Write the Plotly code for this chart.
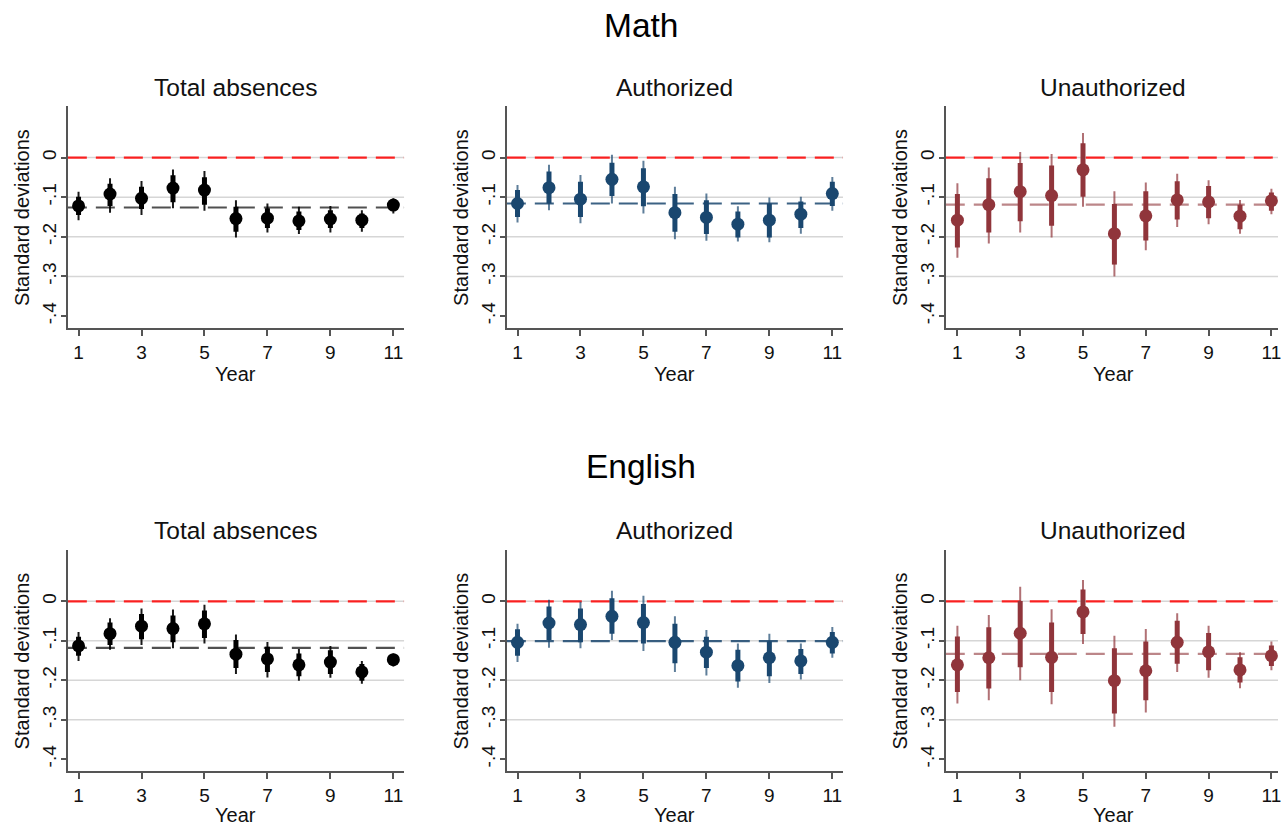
import plotly.graph_objects as go

# ---------------------------------------------------------------------------
# Event-study style estimates by school year (effect in standard deviations)
# Each panel: point estimate, inner (thick) interval, outer (thin) interval,
# and the pooled average drawn as a dashed reference line.
# ---------------------------------------------------------------------------
years = [1, 2, 3, 4, 5, 6, 7, 8, 9, 10, 11]
x_tick_vals = [1, 3, 5, 7, 9, 11]
y_tick_vals = [0, -0.1, -0.2, -0.3, -0.4]
y_tick_text = ["0", "-.1", "-.2", "-.3", "-.4"]
grid_levels = [0, -0.1, -0.2, -0.3]

# Math - total absences
math_total_est = [-0.122, -0.092, -0.103, -0.077, -0.082, -0.154, -0.153, -0.160, -0.155, -0.158, -0.120]
math_total_in_lo = [-0.145, -0.122, -0.130, -0.113, -0.119, -0.187, -0.178, -0.183, -0.178, -0.178, -0.134]
math_total_in_hi = [-0.099, -0.066, -0.074, -0.045, -0.050, -0.124, -0.128, -0.136, -0.133, -0.141, -0.109]
math_total_out_lo = [-0.158, -0.139, -0.145, -0.128, -0.134, -0.202, -0.189, -0.193, -0.189, -0.187, -0.141]
math_total_out_hi = [-0.086, -0.052, -0.059, -0.030, -0.034, -0.108, -0.116, -0.124, -0.122, -0.133, -0.103]
math_total_avg = -0.126

# Math - authorized absences
math_auth_est = [-0.116, -0.076, -0.105, -0.055, -0.074, -0.139, -0.151, -0.168, -0.158, -0.143, -0.091]
math_auth_in_lo = [-0.150, -0.116, -0.150, -0.097, -0.123, -0.187, -0.193, -0.202, -0.202, -0.178, -0.122]
math_auth_in_hi = [-0.082, -0.035, -0.061, -0.013, -0.027, -0.092, -0.108, -0.136, -0.116, -0.111, -0.061]
math_auth_out_lo = [-0.164, -0.133, -0.166, -0.116, -0.141, -0.206, -0.210, -0.212, -0.214, -0.192, -0.134]
math_auth_out_hi = [-0.069, -0.018, -0.044, 0.007, -0.008, -0.074, -0.091, -0.123, -0.101, -0.099, -0.049]
math_auth_avg = -0.116

# Math - unauthorized absences
math_unauth_est = [-0.158, -0.119, -0.086, -0.096, -0.031, -0.192, -0.147, -0.107, -0.112, -0.148, -0.109]
math_unauth_in_lo = [-0.227, -0.189, -0.161, -0.172, -0.099, -0.270, -0.209, -0.156, -0.153, -0.181, -0.134]
math_unauth_in_hi = [-0.092, -0.052, -0.014, -0.020, 0.036, -0.117, -0.085, -0.060, -0.072, -0.119, -0.088]
math_unauth_out_lo = [-0.253, -0.217, -0.189, -0.202, -0.124, -0.300, -0.234, -0.175, -0.168, -0.192, -0.143]
math_unauth_out_hi = [-0.065, -0.025, 0.014, 0.009, 0.062, -0.085, -0.063, -0.041, -0.057, -0.107, -0.079]
math_unauth_avg = -0.119

# English - total absences
eng_total_est = [-0.113, -0.082, -0.063, -0.069, -0.057, -0.134, -0.146, -0.161, -0.154, -0.179, -0.148]
eng_total_in_lo = [-0.138, -0.111, -0.096, -0.104, -0.093, -0.169, -0.179, -0.190, -0.184, -0.201, -0.161]
eng_total_in_hi = [-0.090, -0.054, -0.032, -0.036, -0.023, -0.098, -0.115, -0.132, -0.124, -0.159, -0.138]
eng_total_out_lo = [-0.151, -0.123, -0.111, -0.119, -0.107, -0.184, -0.193, -0.201, -0.194, -0.209, -0.165]
eng_total_out_hi = [-0.078, -0.043, -0.018, -0.021, -0.009, -0.084, -0.103, -0.121, -0.113, -0.151, -0.132]
eng_total_avg = -0.118

# English - authorized absences
eng_auth_est = [-0.104, -0.055, -0.059, -0.038, -0.054, -0.104, -0.129, -0.163, -0.143, -0.151, -0.104]
eng_auth_in_lo = [-0.138, -0.098, -0.104, -0.082, -0.107, -0.157, -0.169, -0.203, -0.190, -0.184, -0.132]
eng_auth_in_hi = [-0.071, -0.013, -0.018, 0.008, -0.007, -0.057, -0.090, -0.123, -0.101, -0.121, -0.078]
eng_auth_out_lo = [-0.154, -0.118, -0.119, -0.098, -0.126, -0.179, -0.188, -0.219, -0.207, -0.198, -0.143]
eng_auth_out_hi = [-0.057, 0.004, -0.001, 0.027, 0.014, -0.038, -0.073, -0.107, -0.082, -0.107, -0.065]
eng_auth_avg = -0.101

# English - unauthorized absences
eng_unauth_est = [-0.161, -0.143, -0.081, -0.142, -0.027, -0.201, -0.176, -0.104, -0.128, -0.174, -0.138]
eng_unauth_in_lo = [-0.230, -0.221, -0.167, -0.230, -0.083, -0.284, -0.251, -0.158, -0.175, -0.206, -0.164]
eng_unauth_in_hi = [-0.089, -0.066, 0.001, -0.054, 0.030, -0.119, -0.102, -0.049, -0.080, -0.142, -0.112]
eng_unauth_out_lo = [-0.259, -0.251, -0.200, -0.261, -0.108, -0.318, -0.282, -0.179, -0.194, -0.220, -0.175]
eng_unauth_out_hi = [-0.062, -0.035, 0.037, -0.020, 0.054, -0.087, -0.070, -0.030, -0.062, -0.129, -0.102]
eng_unauth_avg = -0.133

panel_titles = ["Total absences", "Authorized", "Unauthorized"]
section_titles = ["Math", "English"]

# Stata s2color-like palette: black, navy, maroon
BLACK = (0, 0, 0)
NAVY = (26, 71, 111)
MAROON = (144, 53, 59)

panels = [
    (math_total_est, math_total_in_lo, math_total_in_hi, math_total_out_lo, math_total_out_hi, math_total_avg, BLACK),
    (math_auth_est, math_auth_in_lo, math_auth_in_hi, math_auth_out_lo, math_auth_out_hi, math_auth_avg, NAVY),
    (math_unauth_est, math_unauth_in_lo, math_unauth_in_hi, math_unauth_out_lo, math_unauth_out_hi, math_unauth_avg, MAROON),
    (eng_total_est, eng_total_in_lo, eng_total_in_hi, eng_total_out_lo, eng_total_out_hi, eng_total_avg, BLACK),
    (eng_auth_est, eng_auth_in_lo, eng_auth_in_hi, eng_auth_out_lo, eng_auth_out_hi, eng_auth_avg, NAVY),
    (eng_unauth_est, eng_unauth_in_lo, eng_unauth_in_hi, eng_unauth_out_lo, eng_unauth_out_hi, eng_unauth_avg, MAROON),
]

W, H = 1281, 828
FONT = "Liberation Sans, Arial, sans-serif"


def rgba(c, a):
    return f"rgba({c[0]},{c[1]},{c[2]},{a})"


def px_x(p):
    return p / W


def px_y(p):
    return 1 - p / H


# plot-area geometry (pixels)
col_px = [(68, 405), (508, 845), (948, 1281)]
col_center_px = [236.5, 676.5, 1116]
ytitle_px = [22, 462, 902]
row_px = [(106, 328), (550, 771)]
x_ranges = [[0.66, 11.34], [0.66, 11.34], [0.63, 11.21]]
y_range = [-0.43, 0.13]

fig = go.Figure()
layout = {}
shapes = []
annotations = []

for i, (est, in_lo, in_hi, out_lo, out_hi, avg, col) in enumerate(panels):
    r, c = divmod(i, 3)
    n = i + 1
    xa = "x" if n == 1 else f"x{n}"
    ya = "y" if n == 1 else f"y{n}"

    # outer interval (thin)
    xs, ys = [], []
    for yr, lo, hi in zip(years, out_lo, out_hi):
        xs += [yr, yr, None]
        ys += [lo, hi, None]
    fig.add_trace(go.Scatter(x=xs, y=ys, mode="lines", xaxis=xa, yaxis=ya,
                             line=dict(color=rgba(col, 0.7 if col != BLACK else 0.9), width=2),
                             hoverinfo="skip", showlegend=False))
    # inner interval (thick)
    xs, ys = [], []
    for yr, lo, hi in zip(years, in_lo, in_hi):
        xs += [yr, yr, None]
        ys += [lo, hi, None]
    fig.add_trace(go.Scatter(x=xs, y=ys, mode="lines", xaxis=xa, yaxis=ya,
                             line=dict(color=rgba(col, 1), width=5),
                             hoverinfo="skip", showlegend=False))
    # point estimates
    fig.add_trace(go.Scatter(x=years, y=est, mode="markers", xaxis=xa, yaxis=ya,
                             marker=dict(color=rgba(col, 1), size=13, line=dict(width=0)),
                             showlegend=False))

    x0, x1 = col_px[c]
    top, bot = row_px[r]
    layout["xaxis" if n == 1 else f"xaxis{n}"] = dict(
        domain=[px_x(x0), px_x(x1)], anchor=ya, range=x_ranges[c],
        tickmode="array", tickvals=x_tick_vals, ticks="outside", ticklen=6,
        tickwidth=1.5, tickcolor="#555", showline=True, linecolor="#555", linewidth=1.5,
        showgrid=False, zeroline=False, ticklabeloverflow="allow",
        tickfont=dict(size=19, color="#111", family=FONT),
    )
    layout["yaxis" if n == 1 else f"yaxis{n}"] = dict(
        domain=[px_y(bot), px_y(top)], anchor=xa, range=y_range,
        tickmode="array", tickvals=y_tick_vals, ticktext=y_tick_text, tickangle=-90,
        ticks="outside", ticklen=5, tickwidth=1.5, tickcolor="#555",
        showline=True, linecolor="#555", linewidth=1.5, ticklabelstandoff=-3,
        showgrid=False, zeroline=False, tickfont=dict(size=19, color="#111", family=FONT),
    )

    xref_dom = f"{xa} domain"
    for g in grid_levels:
        shapes.append(dict(type="line", xref=xref_dom, yref=ya, x0=0, x1=1, y0=g, y1=g,
                           line=dict(color="#d6d6d6", width=1.5), layer="below"))
    shapes.append(dict(type="line", xref=xref_dom, yref=ya, x0=0, x1=1, y0=0, y1=0,
                       line=dict(color="rgba(255,0,0,0.85)", width=2.2, dash="19px,9px"),
                       layer="below"))
    mean_col = rgba((80, 80, 80), 1) if col == BLACK else rgba(col, 0.85 if col == NAVY else 0.6)
    shapes.append(dict(type="line", xref=xref_dom, yref=ya, x0=0, x1=1, y0=avg, y1=avg,
                       line=dict(color=mean_col, width=2.2, dash="19px,9px"), layer="below"))

    # panel subtitle, axis titles
    sub_y = 87 if r == 0 else 530
    annotations.append(dict(text=panel_titles[c], x=px_x(col_center_px[c]), y=px_y(sub_y),
                            xref="paper", yref="paper", showarrow=False,
                            xanchor="center", yanchor="middle",
                            font=dict(size=24.5, color="#111", family=FONT)))
    year_y = 374 if r == 0 else 815
    annotations.append(dict(text="Year", x=px_x(col_center_px[c]), y=px_y(year_y),
                            xref="paper", yref="paper", showarrow=False,
                            xanchor="center", yanchor="middle",
                            font=dict(size=20, color="#111", family=FONT)))
    annotations.append(dict(text="Standard deviations", x=px_x(ytitle_px[c]),
                            y=px_y((top + bot) / 2), xref="paper", yref="paper",
                            showarrow=False, textangle=-90, xanchor="center", yanchor="middle",
                            font=dict(size=20, color="#111", family=FONT)))

for title, ypos in zip(section_titles, [25, 467]):
    annotations.append(dict(text=title, x=px_x(643), y=px_y(ypos), xref="paper", yref="paper",
                            showarrow=False, xanchor="center", yanchor="middle",
                            font=dict(size=33.5, color="#000", family=FONT)))

fig.update_layout(
    **layout,
    width=W, height=H,
    margin=dict(l=0, r=0, t=0, b=0),
    paper_bgcolor="white", plot_bgcolor="white",
    shapes=shapes, annotations=annotations,
    font=dict(family=FONT),
    showlegend=False,
)

fig.write_html("out.html")
